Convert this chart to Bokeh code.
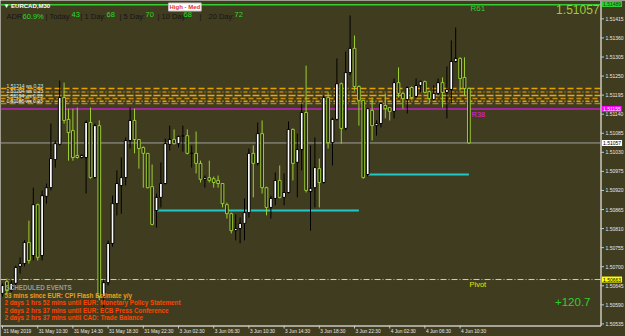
import numpy as np
from bokeh.plotting import figure
from bokeh.models import Range1d, Label, ColumnDataSource
from bokeh.core.properties import value
from bokeh.embed import file_html
from bokeh.resources import INLINE

# ---------------- data (prices in points: 1 point = 0.00001) ----------------
open_pts = [150623,150657,150631,150652,150701,150709,150770,150732,150879,150732,
            150903,150928,151009,151053,151188,151125,151093,151021,151015,151015,
            151116,150957,151107,150614,150654,150767,150882,150934,150957,151064,
            151122,151067,151044,151027,150931,150862,150900,150940,151053,151067,
            151055,151076,151078,151027,151027,150998,150952,150957,150954,150949,
            150940,150879,150853,150804,150810,150825,150856,151027,150998,151084,
            150928,150871,150897,150949,150900,150914,151096,151001,151038,151145,
            150917,150928,150983,150943,151188,151058,151125,151228,151099,151260,
            151330,151220,151180,150966,151151,151107,151113,151165,151159,151148,
            151231,151200,151182,151217,151191,151223,151234,151205,151182,151200,
            151231,151203,151211,151292,151301,151246,151214]
high_pts = [150652,150666,150660,150703,150727,150776,150833,150928,150882,150920,
            150940,151113,151064,151237,151231,151156,151156,151159,151024,151122,
            151159,151113,151122,150663,150776,150905,150978,151015,151073,151159,
            151156,151067,151047,151027,150995,150911,151001,151070,151107,151096,
            151078,151107,151096,151050,151090,151006,150963,151006,150960,150963,
            150940,150885,150856,150851,150842,150897,151041,151050,151116,151122,
            150931,150905,150972,150992,150969,151119,151099,151084,151171,151280,
            151050,151073,151012,151194,151203,151130,151301,151231,151321,151425,
            151367,151223,151180,151156,151188,151122,151174,151200,151159,151243,
            151275,151203,151220,151220,151243,151237,151237,151208,151223,151243,
            151246,151278,151353,151390,151304,151304,151217]
low_pts = [150614,150623,150626,150646,150680,150701,150709,150718,150718,150718,
           150882,150920,150986,151050,151113,151006,151006,151012,151012,150911,
           150954,150954,150603,150582,150646,150758,150848,150853,150934,151041,
           151027,150983,150928,150926,150819,150813,150871,150937,151035,151053,
           151044,151032,151024,150986,150969,150943,150928,150943,150928,150928,
           150871,150839,150796,150776,150767,150776,150842,150900,150992,150911,
           150848,150839,150877,150897,150877,150911,150949,150900,150978,150914,
           150804,150871,150871,150940,151041,150992,151122,151055,151093,151252,
           151208,151107,150954,150960,151064,151078,151102,151128,151122,151128,
           151188,151156,151142,151182,151188,151203,151200,151171,151180,151194,
           151159,151128,151171,151289,151208,151194,151055]
close_pts = [150646,150631,150652,150698,150709,150770,150718,150879,150727,150905,
             150928,151012,151055,151188,151122,151087,151015,151015,151021,151116,
             150957,151107,150614,150654,150767,150882,150940,150957,151064,151122,
             151067,151041,151027,150928,150822,150900,150940,151055,151067,151055,
             151076,151078,151027,151027,150998,150952,150957,150949,150943,150940,
             150882,150853,150804,150810,150825,150856,151027,150998,151084,150928,
             150871,150897,150949,150900,150914,151096,150998,151038,151145,150920,
             150926,150986,150943,151188,151058,151125,151228,151099,151260,151330,
             151220,151180,150957,151156,151107,151113,151171,151156,151148,151231,
             151200,151185,151217,151188,151223,151234,151203,151185,151200,151231,
             151203,151211,151292,151301,151243,151214,151057]

time_labels = ["31 May 2019", "31 May 10:30", "31 May 14:30", "31 May 18:30",
               "31 May 22:30", "3 Jun 02:30", "3 Jun 06:30", "3 Jun 10:30",
               "3 Jun 14:30", "3 Jun 18:30", "3 Jun 22:30", "4 Jun 02:30",
               "4 Jun 06:30", "4 Jun 10:30"]
time_label_bars = [0, 8, 16, 24, 32, 40, 48, 56, 64, 72, 80, 88, 96, 104]

price_ticks = [1.50535, 1.50590, 1.50645, 1.50700, 1.50755, 1.50810, 1.50865,
               1.50920, 1.50975, 1.51030, 1.51085, 1.51140, 1.51195, 1.51250,
               1.51305, 1.51360, 1.51415]

r61_line = 1.51456
r61_text = "1.51489"
r38_level = 1.51155
bid_price = 1.51057
pivot_level = 1.50663
hl_levels = [1.51214, 1.51204, 1.51194, 1.51185, 1.51177, 1.51171]
support_levels = [1.50862, 1.50966]
support_start = [35, 83]
support_end = [81, 106]

adr_parts = ["ADR:", "60.9%", "| Today:", "43", "| 1 Day:", "68", "| 5 Day:", "70",
             "| 10 Day:", "68", "|", "20 Day:", "72"]
pips_text = "+120.7"
events_title = "SCHEDULED EVENTS"
events = ["53 mins since EUR: CPI Flash Estimate y/y",
          "2 days 1 hrs 52 mins until EUR: Monetary Policy Statement",
          "2 days 2 hrs 37 mins until EUR: ECB Press Conference",
          "2 days 2 hrs 37 mins until CAD: Trade Balance"]

# ---------------- layout helpers (pixel -> data) ----------------
BAR_PX = 4.4
X0_PX = 2.0
P_TOP = 1.51468
P_PER_PX = 0.00002885
W, H = 625, 336
CHART_R = 600      # right edge of the price chart (price scale to its right)
CHART_B = 325      # bottom edge of the price chart (time scale below)


def X(px):
    return (px - X0_PX) / BAR_PX


def Y(py):
    return P_TOP - py * P_PER_PX


BG = "#403C20"
AXIS = "#C8C8C0"
BULL_WICK = "#000000"
BEAR = "#9ACD32"
FONT = "Liberation Sans"

o = np.array(open_pts) / 1e5
h = np.array(high_pts) / 1e5
l = np.array(low_pts) / 1e5
c = np.array(close_pts) / 1e5
idx = np.arange(len(o))
bull = c >= o

src = ColumnDataSource(dict(
    x=idx, o=o, h=h, l=l, c=c,
    top=np.maximum(o, c), bottom=np.minimum(o, c),
    wick=np.where(bull, BULL_WICK, BEAR),
    fill=np.where(bull, "#FFFFFF", "#24230E"),
    edge=np.where(bull, "#000000", BEAR),
))

p = figure(frame_width=W, frame_height=H,
           x_range=Range1d(X(0), X(W)), y_range=Range1d(Y(H), Y(0)),
           output_backend="svg", toolbar_location=None, tools="",
           x_axis_location=None, y_axis_location=None, min_border=0,
           background_fill_color=BG, border_fill_color=BG,
           outline_line_color=None)
p.grid.visible = False

xl, xr = X(0), X(CHART_R)

# ---------- horizontal levels ----------
p.segment(x0=xl, x1=xr, y0=r61_line, y1=r61_line, line_color="#32CD32", line_width=1.5)
hl_colors = ["#E8A000", "#B8860B", "#F0A800", "#C89010", "#E8A000", "#B8860B"]
hl_dash = ["6 3", "4 2 1 2", "7 2", "5 3", "4 2 1 2", "6 3"]
for lv, col, ds in zip(hl_levels, hl_colors, hl_dash):
    p.segment(x0=xl, x1=xr, y0=lv, y1=lv, line_color=col, line_width=1.5, line_dash=ds)
p.segment(x0=xl, x1=xr, y0=r38_level, y1=r38_level, line_color="#C020C0", line_width=1.5)
p.segment(x0=xl, x1=xr, y0=bid_price, y1=bid_price, line_color="#A0A0A0", line_width=1)
p.segment(x0=xl, x1=xr, y0=pivot_level, y1=pivot_level, line_color="#E6E600",
          line_width=1, line_dash="6 2 1 2")

p.segment(x0=support_start, x1=support_end, y0=support_levels, y1=support_levels,
          line_color="#20C8C8", line_width=2)

# ---------- candles ----------
p.segment(x0="x", y0="l", x1="x", y1="h", source=src, line_color="wick", line_width=1)
p.vbar(x="x", width=0.62, top="top", bottom="bottom", source=src,
       fill_color="fill", line_color="edge", line_width=1)

# ---------- price scale (right) and time scale (bottom) ----------
p.segment(x0=X(CHART_R + 0.5), x1=X(CHART_R + 0.5), y0=Y(0), y1=Y(CHART_B + 0.5),
          line_color=AXIS, line_width=1.5)
p.segment(x0=X(0), x1=X(CHART_R + 0.5), y0=Y(CHART_B + 0.5), y1=Y(CHART_B + 0.5),
          line_color=AXIS, line_width=1.5)
p.segment(x0=X(CHART_R), x1=X(CHART_R + 3.5), y0=price_ticks, y1=price_ticks,
          line_color=AXIS, line_width=1)
p.text(x=X(CHART_R + 5), y=price_ticks, text=[f"{t:.5f}" for t in price_ticks],
       text_font=value(FONT), text_font_size="5px", text_color="#E8E8E8",
       text_align="left", text_baseline="middle")
p.segment(x0=time_label_bars, x1=time_label_bars, y0=Y(CHART_B), y1=Y(CHART_B + 3),
          line_color=AXIS, line_width=1)
p.text(x=time_label_bars, y=Y(CHART_B + 3.5), x_offset=1, text=time_labels,
       text_font=value(FONT), text_font_size="4.8px", text_color="#E8E8E8",
       text_align="left", text_baseline="top")


def lab(px, py, text, color, size, bold=False, align="left", baseline="top", **kw):
    p.add_layout(Label(x=X(px), y=Y(py), text=text, text_color=color,
                       text_font=FONT, text_font_size=f"{size}px",
                       text_font_style="bold" if bold else "normal",
                       text_align=align, text_baseline=baseline, **kw))


# ---------- price boxes on the scale ----------
def box(price, text, fill, tcol):
    p.add_layout(Label(x=X(CHART_R + 1.5), y=price, text=text, text_color=tcol,
                       text_font=FONT, text_font_size="5px",
                       text_align="left", text_baseline="middle",
                       background_fill_color=fill, border_line_color=None,
                       padding=1))


box(Y(3.5), r61_text, "#32CD32", "#1A3A1A")
box(r38_level, f"{r38_level:.5f}", "#FF00FF", "#FFFFFF")
box(bid_price, f"{bid_price:.5f}", "#FFFFFF", "#000000")
box(pivot_level, f"{pivot_level:.5f}", "#FFFF00", "#000000")

# overlapping tiny level labels at the left
for i, lv in enumerate(hl_levels[:4]):
    lab(6, 82 + i * 5, f"{lv:.5f} ws 0.23", "#F0F0F0" if i % 2 else "#C8F0F0", 5)

# ---------- header ----------
lab(3, 2, "\u25BC EURCAD,M30", "#FFFFFF", 6, bold=True)
p.add_layout(Label(x=X(168), y=Y(2.5), text="High - Med", text_color="#E03030",
                   text_font=FONT, text_font_size="6px", text_font_style="bold",
                   text_align="left", text_baseline="top",
                   background_fill_color="#FFFFFF", border_line_color="#C0C0C0",
                   padding=1))
adr_x = [6, 22, 45, 71, 80, 106, 119, 145, 157, 183, 199, 208, 234]
for k, (t, ax_) in enumerate(zip(adr_parts, adr_x)):
    is_val = k in (1, 3, 5, 7, 9, 12)
    lab(ax_, 11.5, t, "#2BD92B" if is_val else "#151515", 7.5)

lab(470, 3, "R61", "#32CD32", 8)
lab(599, 4, f"{bid_price:.5f}", "#9ACD32", 12, align="right")
lab(471, 109, "R38", "#E020E0", 7.5)
lab(469, 279.5, "Pivot", "#E6E600", 7.5)
lab(590, 297, pips_text, "#32CD32", 11.5, align="right")

# ---------- events ----------
lab(5, 283, events_title, "#9A9A90", 6.3, bold=True)
ev_cols = ["#E8A317", "#FF4500", "#FF4500", "#FF4500"]
for i, (t, col) in enumerate(zip(events, ev_cols)):
    lab(4, 291 + i * 7.6, t, col, 6.3, bold=True)

open("out.html", "w").write(file_html(p, INLINE))
